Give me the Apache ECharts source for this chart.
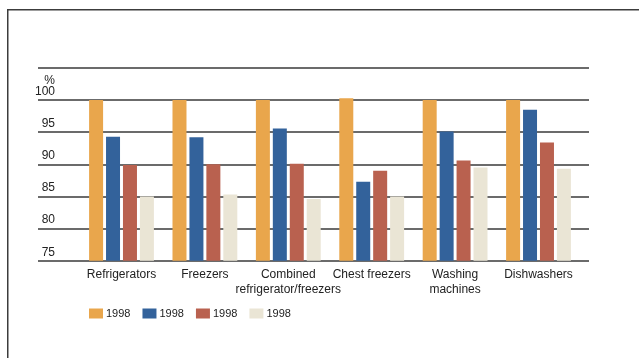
<!DOCTYPE html>
<html>
<head>
<meta charset="utf-8">
<script src="https://cdn.jsdelivr.net/npm/echarts@6/dist/echarts.min.js"></script>
<style>
  html, body { margin: 0; padding: 0; background: #fff; }
  #chart { width: 639px; height: 358px; }
</style>
</head>
<body>
<div id="chart"></div>
<script>
// Appliance ownership index by category (first bar = 100)
const categories = [
  'Refrigerators',
  'Freezers',
  'Combined\nrefrigerator/freezers',
  'Chest freezers',
  'Washing\nmachines',
  'Dishwashers'
];
const legendLabels = ['1998', '1998', '1998', '1998'];
const seriesA = [100, 100, 100, 100.3, 100, 100];
const seriesB = [94.3, 94.2, 95.6, 87.3, 95.1, 98.5];
const seriesC = [89.9, 90.0, 90.1, 89.0, 90.6, 93.4];
const seriesD = [85.0, 85.3, 84.6, 85.0, 89.5, 89.3];
const yTicks = [75, 80, 85, 90, 95, 100, 105];

const colors = ['#E9A64C', '#33629B', '#B9614F', '#EAE5D5'];
const seriesValues = [seriesA, seriesB, seriesC, seriesD];
const seriesKeys = ['a', 'b', 'c', 'd'];

const font = 'Liberation Sans, Arial, Helvetica, sans-serif';
const plotTop = 68, plotBottom = 97.3;

const chart = echarts.init(document.getElementById('chart'), null, { renderer: 'canvas' });

chart.setOption({
  animation: false,
  backgroundColor: '#fff',
  textStyle: { fontFamily: font },
  color: colors,
  graphic: [{
    type: 'rect',
    silent: true,
    shape: { x: 7.75, y: 9.75, width: 700, height: 400 },
    style: { fill: 'none', stroke: '#3c3c3c', lineWidth: 1.5 }
  }],
  grid: [
    { left: 38, right: 50, top: plotTop, bottom: plotBottom },
    { left: 79.8, right: 58.8, top: plotTop, bottom: plotBottom }
  ],
  xAxis: [
    { gridIndex: 0, type: 'category', data: [''], show: false },
    {
      gridIndex: 1,
      type: 'category',
      data: categories,
      axisLine: { show: false },
      axisTick: { show: false },
      axisLabel: {
        interval: 0,
        margin: 7,
        color: '#222',
        fontSize: 12,
        lineHeight: 14.5,
        fontFamily: font
      }
    }
  ],
  yAxis: [
    {
      gridIndex: 0,
      type: 'value',
      min: yTicks[0],
      max: yTicks[yTicks.length - 1],
      interval: 5,
      axisLine: { show: false },
      axisTick: { show: false },
      splitLine: { lineStyle: { color: '#3a3a3a', width: 1.5 } },
      axisLabel: {
        inside: true,
        margin: 17,
        align: 'right',
        verticalAlign: 'bottom',
        padding: [0, 0, 3, 0],
        color: '#222',
        fontSize: 12,
        lineHeight: 11,
        fontFamily: font,
        formatter: function (v) {
          if (v === 105) return '';
          if (v === 100) return '%\n100';
          return String(v);
        }
      }
    },
    {
      gridIndex: 1,
      type: 'value',
      min: yTicks[0],
      max: yTicks[yTicks.length - 1],
      interval: 5,
      show: false,
      splitLine: { show: false }
    }
  ],
  legend: {
    left: 84,
    top: 303,
    itemWidth: 14,
    itemHeight: 10,
    itemGap: 12,
    selectedMode: false,
    icon: 'rect',
    data: seriesKeys,
    formatter: function (name) { return legendLabels[seriesKeys.indexOf(name)]; },
    textStyle: { color: '#222', fontSize: 11, fontFamily: font, padding: [0, 0, 0, -2] }
  },
  series: seriesValues.map(function (vals, i) {
    return {
      name: seriesKeys[i],
      type: 'bar',
      xAxisIndex: 1,
      yAxisIndex: 1,
      data: vals,
      barWidth: 14,
      barGap: '21%',
      itemStyle: { color: colors[i] }
    };
  })
});
</script>
</body>
</html>
